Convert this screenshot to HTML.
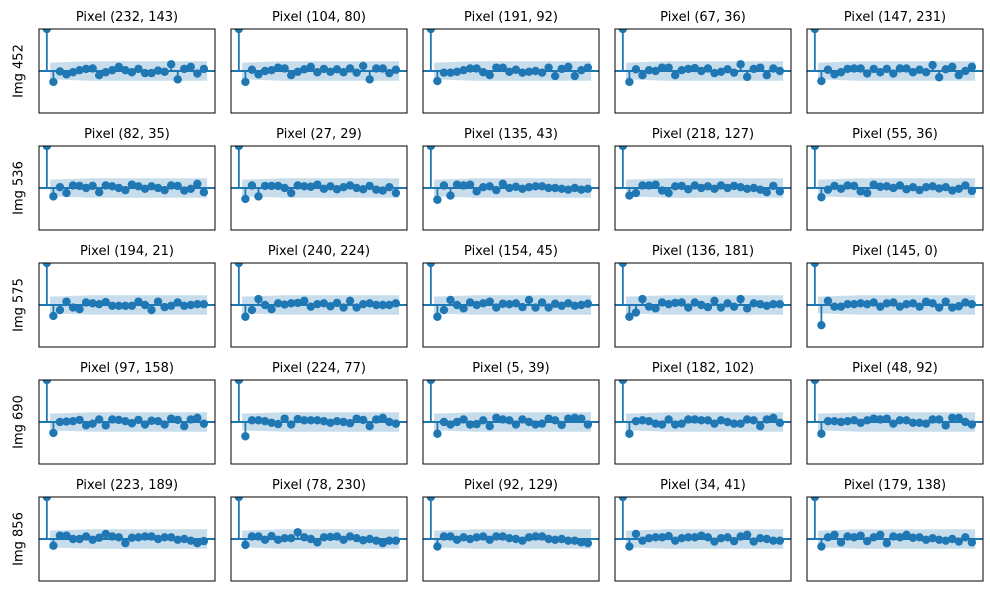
<!DOCTYPE html>
<html><head><meta charset="utf-8">
<style>
html,body{margin:0;padding:0;background:#fff;}
svg{display:block;font-family:"DejaVu Sans","Liberation Sans",sans-serif;}
</style></head>
<body>
<svg id="chart" width="990" height="590" viewBox="0 0 990 590" xmlns="http://www.w3.org/2000/svg"></svg>
<script>
const rowLabels = ["Img 452","Img 536","Img 575","Img 690","Img 856"];
const titles = [
 ["Pixel (232, 143)","Pixel (104, 80)","Pixel (191, 92)","Pixel (67, 36)","Pixel (147, 231)"],
 ["Pixel (82, 35)","Pixel (27, 29)","Pixel (135, 43)","Pixel (218, 127)","Pixel (55, 36)"],
 ["Pixel (194, 21)","Pixel (240, 224)","Pixel (154, 45)","Pixel (136, 181)","Pixel (145, 0)"],
 ["Pixel (97, 158)","Pixel (224, 77)","Pixel (5, 39)","Pixel (182, 102)","Pixel (48, 92)"],
 ["Pixel (223, 189)","Pixel (78, 230)","Pixel (92, 129)","Pixel (34, 41)","Pixel (179, 138)"]
];
const acfRow1 = [
 [-0.26,-0.01,-0.08,-0.03,0.02,0.05,0.06,-0.1,-0.03,0.02,0.1,0.02,-0.03,0.05,-0.05,-0.05,0.01,-0.02,0.16,-0.2,0.05,0.1,-0.06,0.05],
 [-0.26,0.03,-0.08,0.0,0.02,0.08,0.06,-0.1,-0.02,0.04,0.1,-0.03,0.05,-0.02,0.04,-0.03,0.06,-0.04,0.12,-0.2,0.06,0.06,-0.05,0.03],
 [-0.24,-0.04,-0.04,-0.02,0.02,0.06,0.06,-0.03,-0.1,0.08,0.08,-0.02,0.03,-0.04,-0.02,0.0,-0.04,0.08,-0.12,0.05,0.1,-0.12,0.02,0.08],
 [-0.26,0.04,-0.1,0.02,0.0,0.08,0.08,-0.1,0.02,0.05,0.07,0.0,0.06,-0.05,-0.02,0.04,-0.04,0.16,-0.14,0.05,0.08,-0.1,0.06,0.0],
 [-0.24,0.03,-0.08,-0.03,0.05,0.06,0.06,-0.06,0.05,-0.03,0.05,-0.06,0.06,0.06,-0.03,0.03,-0.03,0.14,-0.15,0.04,0.1,-0.1,0.0,0.1]
];
const acfRow2 = [
 [-0.2,0.02,-0.12,0.06,0.05,0.0,0.05,-0.1,0.06,0.04,0.0,-0.05,0.08,0.04,-0.02,0.04,0.0,-0.05,0.06,0.05,-0.06,-0.02,0.1,-0.1],
 [-0.26,0.06,-0.2,0.05,0.05,0.05,0.0,-0.12,0.06,0.04,0.03,0.08,-0.02,0.04,-0.03,0.02,0.06,0.0,-0.03,0.05,-0.04,-0.06,0.02,-0.12],
 [-0.28,0.06,-0.18,0.08,0.06,0.08,-0.08,0.02,0.04,-0.05,0.1,0.0,0.03,-0.02,0.02,0.04,0.04,0.0,0.0,-0.02,-0.04,0.0,-0.04,-0.02],
 [-0.18,-0.12,0.06,0.06,0.08,-0.06,-0.12,0.04,0.05,-0.03,0.06,0.0,0.04,-0.02,0.06,0.0,0.05,0.02,-0.02,0.0,-0.04,-0.1,0.05,-0.08],
 [-0.22,-0.04,0.05,-0.02,0.06,0.05,-0.08,-0.12,0.08,0.03,0.04,0.0,0.06,-0.03,0.02,-0.05,0.02,0.04,-0.01,0.02,-0.06,-0.02,0.06,-0.07]
];
const acfRow3 = [
 [-0.26,-0.12,0.08,-0.06,-0.1,0.06,0.04,0.02,0.07,-0.02,-0.02,-0.02,-0.02,0.08,0.0,-0.12,0.08,-0.05,-0.02,0.06,-0.02,0.0,0.02,0.02],
 [-0.28,-0.12,0.14,0.0,-0.1,0.04,0.01,0.04,0.05,0.1,-0.04,0.02,0.04,-0.03,0.05,-0.06,0.1,-0.06,0.02,0.04,0.0,0.0,0.0,0.04],
 [-0.28,-0.12,0.12,0.0,-0.08,0.06,0.0,0.04,0.08,-0.06,0.03,0.02,0.04,-0.05,0.12,-0.06,0.06,-0.06,0.03,-0.02,0.04,-0.02,0.0,0.03],
 [-0.28,-0.18,0.14,-0.04,-0.08,0.06,0.02,0.05,0.06,-0.06,0.06,0.0,-0.05,0.1,-0.06,0.04,-0.04,0.14,-0.08,0.04,0.02,-0.02,0.02,0.02],
 [-0.48,0.1,-0.04,-0.04,0.02,0.02,0.04,0.02,0.06,-0.04,0.04,0.06,-0.04,0.02,0.04,-0.04,0.08,0.04,-0.06,0.08,-0.06,-0.03,0.06,0.02]
];
const acfRow4 = [
 [-0.26,0.0,0.01,0.02,0.05,-0.08,-0.04,0.06,-0.08,0.06,0.05,0.02,-0.03,0.05,-0.06,0.03,0.02,-0.06,0.08,0.05,-0.1,0.06,0.1,-0.04],
 [-0.34,0.04,0.04,0.02,-0.02,-0.05,0.08,-0.06,0.07,0.04,0.04,0.04,0.02,-0.02,0.02,0.0,-0.03,0.08,0.05,-0.1,0.06,0.1,0.0,-0.04],
 [-0.28,0.0,-0.06,0.0,0.06,-0.06,-0.05,0.04,-0.1,0.1,0.06,0.04,-0.06,0.06,0.0,-0.06,-0.04,0.08,0.04,-0.07,0.08,0.1,0.08,-0.06],
 [-0.28,0.02,0.04,0.02,-0.04,-0.06,0.06,-0.06,-0.04,0.06,0.06,0.04,0.04,-0.04,0.04,0.0,-0.04,-0.04,0.06,0.04,-0.1,0.06,0.1,-0.02],
 [-0.28,0.02,0.02,0.0,0.02,0.04,-0.02,0.04,0.08,0.06,0.08,-0.04,0.04,0.04,-0.02,-0.02,-0.04,0.06,0.06,-0.08,0.1,0.1,0.0,-0.06]
];
const acfRow5 = [
 [-0.16,0.08,0.08,0.0,0.0,0.06,-0.02,0.03,0.12,0.06,0.04,-0.1,0.03,0.04,0.06,0.06,0.0,0.04,0.04,-0.02,0.0,-0.04,-0.1,-0.05],
 [-0.14,0.06,0.06,-0.02,0.07,-0.02,0.02,0.02,0.16,0.04,0.0,-0.08,0.04,0.05,0.06,-0.02,0.06,0.02,-0.03,0.0,-0.04,-0.1,-0.04,-0.04],
 [-0.18,0.06,0.06,-0.02,0.04,0.0,0.04,0.06,-0.02,0.06,0.06,0.02,0.0,-0.04,0.04,0.06,0.06,0.0,-0.02,0.0,-0.04,-0.04,-0.08,-0.1],
 [-0.18,0.12,-0.04,0.02,0.04,0.04,0.07,-0.04,0.02,0.04,0.04,0.08,0.04,-0.06,0.02,0.04,-0.05,0.06,0.1,-0.06,0.02,0.0,-0.04,-0.04],
 [-0.18,0.04,0.1,-0.08,0.06,0.04,0.08,-0.05,0.04,0.1,-0.1,0.06,0.04,0.1,0.03,0.04,-0.02,0.02,-0.02,-0.04,0.0,-0.06,0.04,-0.08]
];
const acfData = [acfRow1, acfRow2, acfRow3, acfRow4, acfRow5];
const confLow = [0.2, 0.23];

const NS = "http://www.w3.org/2000/svg";
const svg = document.getElementById("chart");
const C = "#1f77b4";
const PW = 176, PH = 84;
const XMIN = -1.2, XMAX = 25.7, YMIN = -1, YMAX = 1;
function mk(tag, attrs, parent){
  const e = document.createElementNS(NS, tag);
  for (const k in attrs) e.setAttribute(k, attrs[k]);
  (parent||svg).appendChild(e);
  return e;
}
const defs = mk("defs", {});
for (let r = 0; r < 5; r++) {
  const top = 29 + r*117;
  const lab = mk("text", {x:19, y:top+PH/2, "font-size":13, fill:"#000", "text-anchor":"middle", "dominant-baseline":"middle", transform:`rotate(-90 19 ${top+PH/2})`});
  
  
  lab.textContent = rowLabels[r];
  for (let c = 0; c < 5; c++) {
    const left = 39 + c*192;
    const sx = v => left + (v - XMIN)/(XMAX - XMIN)*PW;
    const sy = v => top + (YMAX - v)/(YMAX - YMIN)*PH;
    const g = mk("g", {});
    
    
    const cid = "clip" + r + "_" + c;
    const cp = mk("clipPath", {id: cid}, defs);
    mk("rect", {x:left, y:top, width:PW, height:PH}, cp);
    const inner = mk("g", {"clip-path":`url(#${cid})`}, g);
    const vals = [1].concat(acfData[r][c]);
    const n = vals.length;
    const w0 = confLow[0], w1 = confLow[1];
    const hw = l => w0 + (w1 - w0) * Math.min(1, (l - 0.5) / 6);
    let up = [], dn = [];
    for (let l = 0.5; l <= n - 0.5 + 1e-9; l += 1) {
      up.push(`${sx(l).toFixed(1)},${sy(hw(l)).toFixed(1)}`);
      dn.unshift(`${sx(l).toFixed(1)},${sy(-hw(l)).toFixed(1)}`);
    }
    const band = mk("polygon", {points: up.concat(dn).join(" "), fill:C, "fill-opacity":0.25, stroke:"none"}, inner);
    
    
    const zl = mk("line", {x1:left, x2:left+PW, y1:sy(0), y2:sy(0), stroke:C, "stroke-width":2}, inner);
    
    
    for (let l = 0; l < n; l++) {
      const st = mk("line", {x1:sx(l), x2:sx(l), y1:sy(0), y2:sy(vals[l]), stroke:C, "stroke-width":1.8}, inner);
      
      
      const pt = mk("circle", {cx:sx(l), cy:sy(vals[l]), r:4.2, fill:C}, inner);
      
      
    }
    const fr = mk("rect", {x:left, y:top, width:PW, height:PH, fill:"none", stroke:"#000", "stroke-width":1}, g);
    
    
    const t = mk("text", {x:left+PW/2, y:top-8, "font-size":13, fill:"#000", "text-anchor":"middle"}, g);
    
    
    t.textContent = titles[r][c];
  }
}
</script>
</body></html>
